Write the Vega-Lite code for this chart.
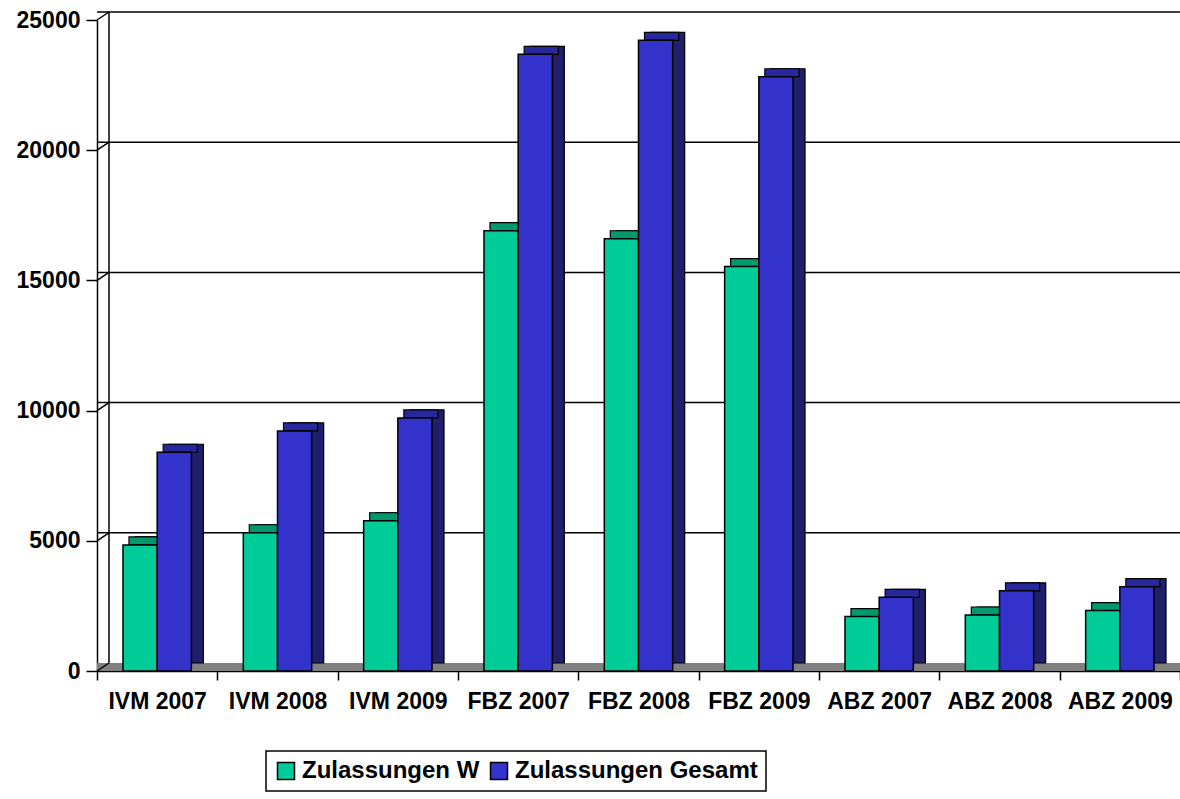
{
  "$schema": "https://vega.github.io/schema/vega-lite/v6.json",
  "width": 1083,
  "height": 651,
  "autosize": {"type": "none"},
  "padding": {"left": 97, "top": 20, "right": 0, "bottom": 128},
  "background": "white",
  "config": {
    "view": {"stroke": null},
    "font": "Liberation Sans",
    "axis": {"grid": false, "domainColor": "black", "domainWidth": 1.5, "tickColor": "black", "tickWidth": 1.5,
             "labelFont": "Liberation Sans", "labelFontWeight": "bold", "labelFontSize": 23, "labelColor": "black"},
    "axisY": {"tickSize": 11, "labelPadding": 6},
    "axisX": {"tickSize": 9, "labelPadding": 10, "tickBand": "extent", "labelAngle": 0},
    "legend": {"orient": "none", "legendX": 169, "legendY": 731, "direction": "horizontal", "gridAlign": "none",
               "strokeColor": "black", "strokeWidth": 1.5, "padding": 8, "fillColor": "white",
               "symbolType": "square", "symbolSize": 289, "symbolStrokeColor": "black", "symbolStrokeWidth": 1.5,
               "labelFont": "Liberation Sans", "labelFontWeight": "bold", "labelFontSize": 24, "labelColor": "black",
               "labelOffset": 4, "columnPadding": 7, "labelLimit": 400}
  },
  "datasets": {
    "bars": [
      {"cat": "IVM 2007", "series": "Zulassungen W", "value": 4840},
      {"cat": "IVM 2007", "series": "Zulassungen Gesamt", "value": 8400},
      {"cat": "IVM 2008", "series": "Zulassungen W", "value": 5310},
      {"cat": "IVM 2008", "series": "Zulassungen Gesamt", "value": 9220},
      {"cat": "IVM 2009", "series": "Zulassungen W", "value": 5770},
      {"cat": "IVM 2009", "series": "Zulassungen Gesamt", "value": 9720},
      {"cat": "FBZ 2007", "series": "Zulassungen W", "value": 16910},
      {"cat": "FBZ 2007", "series": "Zulassungen Gesamt", "value": 23680},
      {"cat": "FBZ 2008", "series": "Zulassungen W", "value": 16600},
      {"cat": "FBZ 2008", "series": "Zulassungen Gesamt", "value": 24220},
      {"cat": "FBZ 2009", "series": "Zulassungen W", "value": 15530},
      {"cat": "FBZ 2009", "series": "Zulassungen Gesamt", "value": 22820},
      {"cat": "ABZ 2007", "series": "Zulassungen W", "value": 2090},
      {"cat": "ABZ 2007", "series": "Zulassungen Gesamt", "value": 2830},
      {"cat": "ABZ 2008", "series": "Zulassungen W", "value": 2150},
      {"cat": "ABZ 2008", "series": "Zulassungen Gesamt", "value": 3080},
      {"cat": "ABZ 2009", "series": "Zulassungen W", "value": 2320},
      {"cat": "ABZ 2009", "series": "Zulassungen Gesamt", "value": 3240}
    ],
    "ticks": [{"v": 0}, {"v": 5000}, {"v": 10000}, {"v": 15000}, {"v": 20000}, {"v": 25000}],
    "grid": [{"v": 5000}, {"v": 10000}, {"v": 15000}, {"v": 20000}, {"v": 25000}],
    "floor": [{"v": 0}],
    "wall": [{"v0": 0, "v1": 25000}]
  },
  "resolve": {"scale": {"x": "independent", "color": "independent"}},
  "layer": [
    {
      "data": {"name": "floor"},
      "mark": {"type": "rect", "color": "#808080", "yOffset": -8, "xOffset": 6, "x2Offset": 6},
      "encoding": {
        "y": {"field": "v", "type": "quantitative", "scale": {"domain": [0, 25000]}, "title": null,
              "axis": {"values": [0, 5000, 10000, 15000, 20000, 25000], "format": "d"}},
        "y2": {"field": "v"}
      }
    },
    {
      "data": {"name": "grid"},
      "mark": {"type": "rule", "color": "black", "strokeWidth": 1.5, "yOffset": -8, "xOffset": 12, "x2Offset": 12},
      "encoding": {
        "y": {"field": "v", "type": "quantitative", "scale": {"domain": [0, 25000]}, "title": null}
      }
    },
    {
      "data": {"name": "ticks"},
      "mark": {"type": "rule", "color": "black", "strokeWidth": 1.5, "x2Offset": 12, "y2Offset": -8},
      "encoding": {
        "x": {"datum": 0, "type": "quantitative", "scale": {"domain": [0, 1]}, "axis": null},
        "x2": {"datum": 0},
        "y": {"field": "v", "type": "quantitative", "scale": {"domain": [0, 25000]}, "title": null},
        "y2": {"field": "v"}
      }
    },
    {
      "data": {"name": "wall"},
      "mark": {"type": "rule", "color": "black", "strokeWidth": 1.5, "xOffset": 12, "yOffset": -8, "y2Offset": -8},
      "encoding": {
        "x": {"datum": 0, "type": "quantitative", "scale": {"domain": [0, 1]}, "axis": null},
        "y": {"field": "v0", "type": "quantitative", "scale": {"domain": [0, 25000]}, "title": null},
        "y2": {"field": "v1"}
      }
    },
    {
      "data": {"name": "bars"},
      "mark": {"type": "bar", "yOffset": -8, "y2Offset": -8, "stroke": "black", "strokeWidth": 1.2},
      "encoding": {
        "x": {"field": "cat", "type": "nominal", "sort": null, "scale": {"paddingInner": 0, "paddingOuter": 0, "range": [12, 1095]}, "axis": null},
        "xOffset": {"field": "series", "type": "nominal", "sort": ["Zulassungen W", "Zulassungen Gesamt"], "scale": {"paddingInner": 0, "paddingOuter": 0.76}},
        "y": {"field": "value", "type": "quantitative", "scale": {"domain": [0, 25000]}, "title": null},
        "color": {"field": "series", "type": "nominal", "scale": {"domain": ["Zulassungen W", "Zulassungen Gesamt"], "range": ["#006B50", "#1F1F6B"]}, "legend": null}
      }
    },
    {
      "data": {"name": "bars"},
      "mark": {"type": "bar", "yOffset": -8, "stroke": "black", "strokeWidth": 1.2},
      "encoding": {
        "x": {"field": "cat", "type": "nominal", "sort": null, "scale": {"paddingInner": 0, "paddingOuter": 0, "range": [6, 1089]}, "axis": null},
        "xOffset": {"field": "series", "type": "nominal", "sort": ["Zulassungen W", "Zulassungen Gesamt"], "scale": {"paddingInner": 0, "paddingOuter": 0.76}},
        "y": {"field": "value", "type": "quantitative", "scale": {"domain": [0, 25000]}, "title": null},
        "y2": {"field": "value"},
        "color": {"field": "series", "type": "nominal", "scale": {"domain": ["Zulassungen W", "Zulassungen Gesamt"], "range": ["#00996E", "#28289E"]}, "legend": null}
      }
    },
    {
      "data": {"name": "bars"},
      "mark": {"type": "bar", "stroke": "black", "strokeWidth": 1.5, "opacity": 1},
      "encoding": {
        "x": {"field": "cat", "type": "nominal", "sort": null, "scale": {"paddingInner": 0, "paddingOuter": 0},
              "title": null, "axis": {"domain": true}},
        "xOffset": {"field": "series", "type": "nominal", "sort": ["Zulassungen W", "Zulassungen Gesamt"], "scale": {"paddingInner": 0, "paddingOuter": 0.76}},
        "y": {"field": "value", "type": "quantitative", "scale": {"domain": [0, 25000]}, "title": null},
        "color": {"field": "series", "type": "nominal", "scale": {"domain": ["Zulassungen W", "Zulassungen Gesamt"], "range": ["#00CC99", "#3333CC"]},
                  "title": null}
      }
    }
  ]
}
